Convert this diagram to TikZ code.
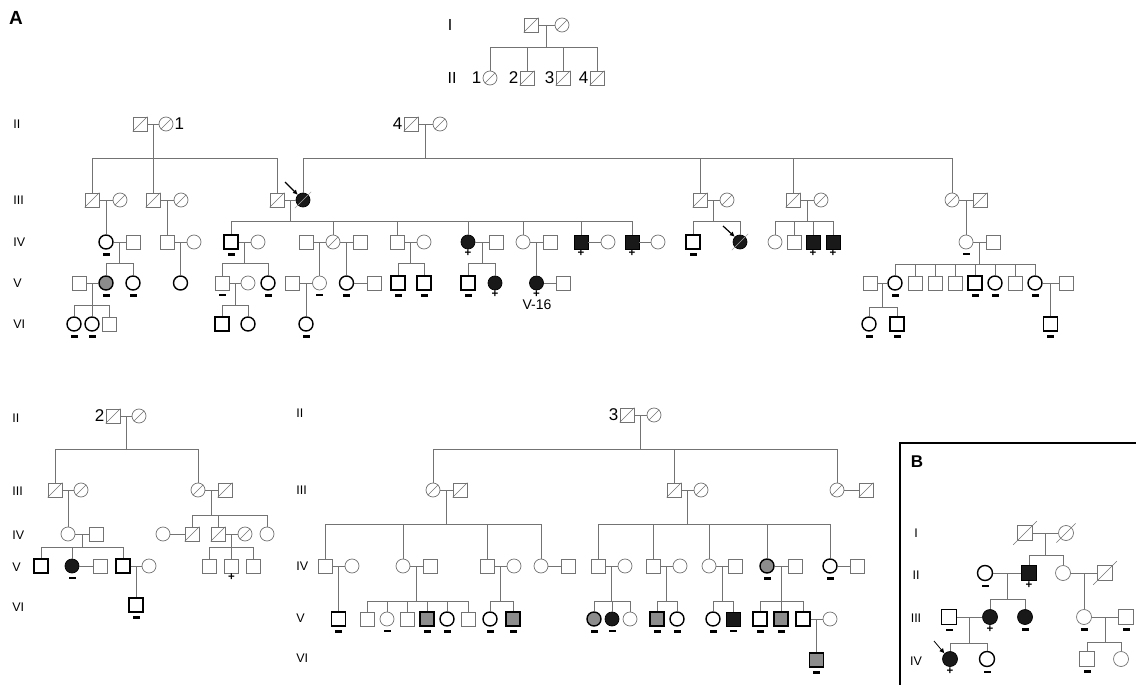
\documentclass[tikz,border=0pt]{standalone}
\usepackage{fontspec}
\setmainfont{Liberation Sans}
\usetikzlibrary{arrows.meta,calc}

\begin{document}
\begin{tikzpicture}[x=1pt,y=-1pt,line width=0.7pt]
    \tikzstyle{person}=[draw=black!55,fill=white,line width=0.7pt,minimum size=14pt,inner sep=0pt]
    \tikzstyle{male}=[person,rectangle]
    \tikzstyle{female}=[person,circle]
    \tikzstyle{big}=[minimum size=15pt]
    \tikzstyle{tested}=[draw=black,line width=1.4pt]
    \tikzstyle{affected}=[fill=black!90,draw=black]
    \tikzstyle{partial}=[fill=black!45]
    \tikzstyle{negmark}=[label={[fill=black,inner sep=0pt,minimum width=7pt,minimum height=2.5pt,label distance=3pt]below:{}}]
    \tikzstyle{posmark}=[label={[inner sep=0pt,label distance=0.5pt,font=\bfseries\fontsize{11.5}{11.5}\selectfont]below:+}]
    \tikzstyle{gen}=[font=\fontsize{12.5}{12.5}\selectfont,anchor=west,inner sep=0pt]
    \tikzstyle{num}=[font=\fontsize{17}{17}\selectfont,inner sep=1pt]
    \tikzstyle{link}=[draw=black!55,line width=0.7pt]
    \tikzstyle{slash}=[draw=black!55,line width=0.6pt]
    \tikzstyle{proband}=[draw=black,line width=1.2pt,-{Latex[length=5pt,width=5pt]}]

    \useasboundingbox (0,0) rectangle (1136,685);

    % Draw the overview of generations I and II
    \node[font=\fontsize{16}{16}\selectfont] (gI) at (450,25) {I};
    \node[font=\fontsize{16}{16}\selectfont] (gII) at (452,78) {II};
    \node[male] (t1) at (531,25) {};
    \node[female] (t2) at (562,25) {};
    \node[female,label={[num]left:1}] (t21) at (490,78) {};
    \node[male,label={[num]left:2}] (t22) at (527,78) {};
    \node[male,label={[num]left:3}] (t23) at (563,78) {};
    \node[male,label={[num]left:4}] (t24) at (597,78) {};
    \draw[link] (t1) -- (t2) coordinate[midway] (t12);
    \draw[link] (t12) -- (t12 |- 0,47) coordinate (t12s);
    \foreach \k in {t21,t22,t23,t24}
        \draw[link] (t12s) -| (\k);

    % Draw the large pedigree A
    \node[font=\bfseries\fontsize{19}{19}\selectfont] (A) at (16,18) {A};
    \foreach \g/\y in {II/124,III/200,IV/242,V/283,VI/324}
        \node[gen] (ga-\g) at (13,\y) {\g};

    \node[male] (a1) at (140,124) {};
    \node[female,label={[num]right:1}] (a2) at (166,124) {};
    \node[male,label={[num]left:4}] (a3) at (411,124) {};
    \node[female] (a4) at (440,124) {};

    \node[male] (b1) at (92,200) {};
    \node[female] (b2) at (120,200) {};
    \node[male] (b3) at (153,200) {};
    \node[female] (b4) at (181,200) {};
    \node[male] (b5) at (277,200) {};
    \node[female,affected] (b6) at (303,200) {};
    \node[male] (b7) at (700,200) {};
    \node[female] (b8) at (727,200) {};
    \node[male] (b9) at (793,200) {};
    \node[female] (b10) at (821,200) {};
    \node[female] (b11) at (952,200) {};
    \node[male] (b12) at (980,200) {};

    \node[female,tested,negmark] (c1) at (106,242) {};
    \node[male] (c2) at (133,242) {};
    \node[male] (c3) at (167,242) {};
    \node[female] (c4) at (194,242) {};
    \node[male,tested,negmark] (c5) at (231,242) {};
    \node[female] (c6) at (258,242) {};
    \node[male] (c8) at (306,242) {};
    \node[female] (c7) at (333,242) {};
    \node[male] (c9) at (360,242) {};
    \node[male] (c10) at (397,242) {};
    \node[female] (c11) at (424,242) {};
    \node[female,affected,posmark] (c12) at (468,242) {};
    \node[male] (c13) at (496,242) {};
    \node[female] (c14) at (523,242) {};
    \node[male] (c15) at (550,242) {};
    \node[male,affected,posmark] (c16) at (581,242) {};
    \node[female] (c17) at (608,242) {};
    \node[male,affected,posmark] (c18) at (632,242) {};
    \node[female] (c19) at (658,242) {};
    \node[male,tested,negmark] (c20) at (693,242) {};
    \node[female,affected] (c21) at (740,242) {};
    \node[female] (c22) at (775,242) {};
    \node[male] (c23) at (794,242) {};
    \node[male,affected,posmark] (c24) at (813,242) {};
    \node[male,affected,posmark] (c25) at (833,242) {};
    \node[female,negmark] (c26) at (966,242) {};
    \node[male] (c27) at (993,242) {};

    \node[male] (d1) at (79,283) {};
    \node[female,tested,partial,negmark] (d2) at (106,283) {};
    \node[female,tested,negmark] (d3) at (133,283) {};
    \node[female,tested] (d4) at (180.5,283) {};
    \node[male,negmark] (d5) at (222,283) {};
    \node[female] (d6) at (248,283) {};
    \node[female,tested,negmark] (d7) at (268,283) {};
    \node[male] (d8) at (292,283) {};
    \node[female,negmark] (d9) at (319.5,283) {};
    \node[female,tested,negmark] (d10) at (346.5,283) {};
    \node[male] (d11) at (374,283) {};
    \node[male,tested,negmark] (d12) at (398,283) {};
    \node[male,tested,negmark] (d13) at (424,283) {};
    \node[male,tested,negmark] (d14) at (468,283) {};
    \node[female,affected,posmark] (d15) at (495,283) {};
    \node[female,affected,posmark] (d16) at (536.5,283) {};
    \node[male] (d17) at (563,283) {};
    \node[male] (d18) at (870,283) {};
    \node[female,tested,negmark] (d19) at (895,283) {};
    \node[male] (d20) at (915,283) {};
    \node[male] (d21) at (935,283) {};
    \node[male] (d22) at (955,283) {};
    \node[male,tested,negmark] (d23) at (975,283) {};
    \node[female,tested,negmark] (d24) at (995,283) {};
    \node[male] (d25) at (1015,283) {};
    \node[female,tested,negmark] (d26) at (1035,283) {};
    \node[male] (d27) at (1066,283) {};
    \node[font=\fontsize{14}{14}\selectfont] (v16) at (537,305) {V-16};

    \node[female,tested,negmark] (e1) at (74,324) {};
    \node[female,tested,negmark] (e2) at (92,324) {};
    \node[male] (e3) at (109,324) {};
    \node[male,tested] (e4) at (222,324) {};
    \node[female,tested] (e5) at (248,324) {};
    \node[female,tested,negmark] (e6) at (306,324) {};
    \node[female,tested,negmark] (e7) at (869,324) {};
    \node[male,tested,negmark] (e8) at (897,324) {};
    \node[male,tested,negmark] (e9) at (1050.5,324) {};

    % Connect couples and their children
    \draw[link] (a1) -- (a2) coordinate[midway] (a12);
    \draw[link] (a12) -- (a12 |- 0,158) coordinate (a12s);
    \foreach \k in {b1,b3,b5}
        \draw[link] (a12s) -| (\k);
    \draw[link] (a3) -- (a4) coordinate[midway] (a34);
    \draw[link] (a34) -- (a34 |- 0,158) coordinate (a34s);
    \foreach \k in {b6,b7,b9,b11}
        \draw[link] (a34s) -| (\k);

    \draw[link] (b1) -- (b2) coordinate[midway] (b12m);
    \draw[link] (b12m) -| (c1);
    \draw[link] (b3) -- (b4) coordinate[midway] (b34);
    \draw[link] (b34) -| (c3);
    \draw[link] (b5) -- (b6) coordinate[midway] (b56);
    \draw[link] (b56) -- (b56 |- 0,221) coordinate (b56s);
    \foreach \k in {c5,c7,c10,c12,c14,c16,c18}
        \draw[link] (b56s) -| (\k);
    \draw[link] (b7) -- (b8) coordinate[midway] (b78);
    \draw[link] (b78) -- (b78 |- 0,221) coordinate (b78s);
    \foreach \k in {c20,c21}
        \draw[link] (b78s) -| (\k);
    \draw[link] (b9) -- (b10) coordinate[midway] (b910);
    \draw[link] (b910) -- (b910 |- 0,221) coordinate (b910s);
    \foreach \k in {c22,c23,c24,c25}
        \draw[link] (b910s) -| (\k);
    \draw[link] (b11) -- (b12) coordinate[midway] (b1112);
    \draw[link] (b1112) -| (c26);

    \draw[link] (c1) -- (c2) coordinate[midway] (c12m);
    \draw[link] (c12m) -- (c12m |- 0,263) coordinate (c12s);
    \foreach \k in {d2,d3}
        \draw[link] (c12s) -| (\k);
    \draw[link] (c3) -- (c4) coordinate[midway] (c34);
    \draw[link] (c34) -| (d4);
    \draw[link] (c5) -- (c6) coordinate[midway] (c56);
    \draw[link] (c56) -- (c56 |- 0,263) coordinate (c56s);
    \foreach \k in {d5,d7}
        \draw[link] (c56s) -| (\k);
    \draw[link] (c8) -- (c7) coordinate[midway] (c87);
    \draw[link] (c87) -| (d9);
    \draw[link] (c7) -- (c9) coordinate[midway] (c79);
    \draw[link] (c79) -| (d10);
    \draw[link] (c10) -- (c11) coordinate[midway] (c1011);
    \draw[link] (c1011) -- (c1011 |- 0,263) coordinate (c1011s);
    \foreach \k in {d12,d13}
        \draw[link] (c1011s) -| (\k);
    \draw[link] (c12) -- (c13) coordinate[midway] (c1213);
    \draw[link] (c1213) -- (c1213 |- 0,263) coordinate (c1213s);
    \foreach \k in {d14,d15}
        \draw[link] (c1213s) -| (\k);
    \draw[link] (c14) -- (c15) coordinate[midway] (c1415);
    \draw[link] (c1415) -| (d16);
    \draw[link] (c16) -- (c17);
    \draw[link] (c18) -- (c19);
    \draw[link] (c26) -- (c27) coordinate[midway] (c2627);
    \draw[link] (c2627) -- (c2627 |- 0,264) coordinate (c2627s);
    \foreach \k in {d19,d20,d21,d22,d23,d24,d25,d26}
        \draw[link] (c2627s) -| (\k);

    \draw[link] (d1) -- (d2) coordinate[midway] (d12);
    \draw[link] (d12) -- (d12 |- 0,305) coordinate (d12s);
    \foreach \k in {e1,e2,e3}
        \draw[link] (d12s) -| (\k);
    \draw[link] (d5) -- (d6) coordinate[midway] (d56);
    \draw[link] (d56) -- (d56 |- 0,305) coordinate (d56s);
    \foreach \k in {e4,e5}
        \draw[link] (d56s) -| (\k);
    \draw[link] (d8) -- (d9) coordinate[midway] (d89);
    \draw[link] (d89) -| (e6);
    \draw[link] (d10) -- (d11);
    \draw[link] (d16) -- (d17);
    \draw[link] (d18) -- (d19) coordinate[midway] (d1819);
    \draw[link] (d1819) -- (d1819 |- 0,307) coordinate (d1819s);
    \foreach \k in {e7,e8}
        \draw[link] (d1819s) -| (\k);
    \draw[link] (d26) -- (d27) coordinate[midway] (d2627);
    \draw[link] (d2627) -| (e9);

    % Probands
    \coordinate (pa) at (285,182);
    \draw[proband] (pa) -- (b6.north west);
    \coordinate (pb) at (723,226);
    \draw[proband] (pb) -- (c21.north west);

    % Draw the family of II-2
    \foreach \g/\y in {II/418,III/491,IV/535,V/567,VI/607}
        \node[gen] (gb-\g) at (12,\y) {\g};
    \node[male,label={[num]left:2}] (f1) at (113,416) {};
    \node[female] (f2) at (139,416) {};
    \node[male] (g1) at (55,490) {};
    \node[female] (g2) at (81,490) {};
    \node[female] (g3) at (198,490) {};
    \node[male] (g4) at (225,490) {};
    \node[female] (h1) at (68,534) {};
    \node[male] (h2) at (96,534) {};
    \node[female] (h3) at (163,534) {};
    \node[male] (h4) at (192,534) {};
    \node[male] (h5) at (218,534) {};
    \node[female] (h6) at (245,534) {};
    \node[female] (h7) at (267,534) {};
    \node[male,tested] (i1) at (41,566) {};
    \node[female,affected,negmark] (i2) at (72,566) {};
    \node[male] (i3) at (100,566) {};
    \node[male,tested] (i4) at (123,566) {};
    \node[female] (i5) at (149,566) {};
    \node[male] (i6) at (209,566) {};
    \node[male,posmark] (i7) at (231.5,566) {};
    \node[male] (i8) at (253,566) {};
    \node[male,tested,negmark] (j1) at (136,605) {};

    \draw[link] (f1) -- (f2) coordinate[midway] (f12);
    \draw[link] (f12) -- (f12 |- 0,449) coordinate (f12s);
    \foreach \k in {g1,g3}
        \draw[link] (f12s) -| (\k);
    \draw[link] (g1) -- (g2) coordinate[midway] (g12);
    \draw[link] (g12) -| (h1);
    \draw[link] (g3) -- (g4) coordinate[midway] (g34);
    \draw[link] (g34) -- (g34 |- 0,515) coordinate (g34s);
    \foreach \k in {h4,h5,h7}
        \draw[link] (g34s) -| (\k);
    \draw[link] (h3) -- (h4);
    \draw[link] (h1) -- (h2) coordinate[midway] (h12);
    \draw[link] (h12) -- (h12 |- 0,547) coordinate (h12s);
    \foreach \k in {i1,i2,i4}
        \draw[link] (h12s) -| (\k);
    \draw[link] (h5) -- (h6) coordinate[midway] (h56);
    \draw[link] (h56) -- (h56 |- 0,547) coordinate (h56s);
    \foreach \k in {i6,i7,i8}
        \draw[link] (h56s) -| (\k);
    \draw[link] (i2) -- (i3);
    \draw[link] (i4) -- (i5) coordinate[midway] (i45);
    \draw[link] (i45) -| (j1);

    % Draw the family of II-3
    \foreach \g/\y in {II/413,III/490,IV/566,V/618,VI/658}
        \node[gen] (gc-\g) at (296,\y) {\g};
    \node[male,label={[num]left:3}] (k1) at (627,415) {};
    \node[female] (k2) at (654,415) {};
    \node[female] (l1) at (433,490) {};
    \node[male] (l2) at (460,490) {};
    \node[male] (l3) at (674,490) {};
    \node[female] (l4) at (701,490) {};
    \node[female] (l5) at (837,490) {};
    \node[male] (l6) at (866,490) {};

    \node[male] (m1) at (325,566) {};
    \node[female] (m2) at (352,566) {};
    \node[female] (m3) at (403,566) {};
    \node[male] (m4) at (430,566) {};
    \node[male] (m5) at (487,566) {};
    \node[female] (m6) at (514,566) {};
    \node[female] (m7) at (541,566) {};
    \node[male] (m8) at (568,566) {};
    \node[male] (m9) at (598,566) {};
    \node[female] (m10) at (625,566) {};
    \node[male] (m11) at (653,566) {};
    \node[female] (m12) at (680,566) {};
    \node[female] (m13) at (709,566) {};
    \node[male] (m14) at (735,566) {};
    \node[female,tested,partial,negmark] (m15) at (767,566) {};
    \node[male] (m16) at (795,566) {};
    \node[female,tested,negmark] (m17) at (830,566) {};
    \node[male] (m18) at (857,566) {};

    \node[male,tested,negmark] (n1) at (338.5,619) {};
    \node[male] (n2) at (367,619) {};
    \node[female,negmark] (n3) at (387,619) {};
    \node[male] (n4) at (407,619) {};
    \node[male,tested,partial,negmark] (n5) at (427,619) {};
    \node[female,tested,negmark] (n6) at (447,619) {};
    \node[male] (n7) at (468,619) {};
    \node[female,tested,negmark] (n8) at (490,619) {};
    \node[male,tested,partial,negmark] (n9) at (513,619) {};
    \node[female,tested,partial,negmark] (n10) at (594,619) {};
    \node[female,affected,negmark] (n11) at (612,619) {};
    \node[female] (n12) at (630,619) {};
    \node[male,tested,partial,negmark] (n13) at (657,619) {};
    \node[female,tested,negmark] (n14) at (677,619) {};
    \node[female,tested,negmark] (n15) at (713,619) {};
    \node[male,affected,negmark] (n16) at (733,619) {};
    \node[male,tested,negmark] (n17) at (760,619) {};
    \node[male,tested,partial,negmark] (n18) at (781,619) {};
    \node[male,tested] (n19) at (803,619) {};
    \node[female] (n20) at (830,619) {};
    \node[male,tested,partial,negmark] (o1) at (816.5,660) {};

    \draw[link] (k1) -- (k2) coordinate[midway] (k12);
    \draw[link] (k12) -- (k12 |- 0,449) coordinate (k12s);
    \foreach \k in {l1,l3,l5}
        \draw[link] (k12s) -| (\k);
    \draw[link] (l1) -- (l2) coordinate[midway] (l12);
    \draw[link] (l12) -- (l12 |- 0,524) coordinate (l12s);
    \foreach \k in {m1,m3,m5,m7}
        \draw[link] (l12s) -| (\k);
    \draw[link] (l3) -- (l4) coordinate[midway] (l34);
    \draw[link] (l34) -- (l34 |- 0,524) coordinate (l34s);
    \foreach \k in {m9,m11,m13,m15,m17}
        \draw[link] (l34s) -| (\k);
    \draw[link] (l5) -- (l6);

    \draw[link] (m1) -- (m2) coordinate[midway] (m12m);
    \draw[link] (m12m) -| (n1);
    \draw[link] (m3) -- (m4) coordinate[midway] (m34);
    \draw[link] (m34) -- (m34 |- 0,601) coordinate (m34s);
    \foreach \k in {n2,n3,n4,n5,n6,n7}
        \draw[link] (m34s) -| (\k);
    \draw[link] (m5) -- (m6) coordinate[midway] (m56);
    \draw[link] (m56) -- (m56 |- 0,601) coordinate (m56s);
    \foreach \k in {n8,n9}
        \draw[link] (m56s) -| (\k);
    \draw[link] (m7) -- (m8);
    \draw[link] (m9) -- (m10) coordinate[midway] (m910);
    \draw[link] (m910) -- (m910 |- 0,601) coordinate (m910s);
    \foreach \k in {n10,n11,n12}
        \draw[link] (m910s) -| (\k);
    \draw[link] (m11) -- (m12) coordinate[midway] (m1112);
    \draw[link] (m1112) -- (m1112 |- 0,601) coordinate (m1112s);
    \foreach \k in {n13,n14}
        \draw[link] (m1112s) -| (\k);
    \draw[link] (m13) -- (m14) coordinate[midway] (m1314);
    \draw[link] (m1314) -- (m1314 |- 0,601) coordinate (m1314s);
    \foreach \k in {n15,n16}
        \draw[link] (m1314s) -| (\k);
    \draw[link] (m15) -- (m16) coordinate[midway] (m1516);
    \draw[link] (m1516) -- (m1516 |- 0,601) coordinate (m1516s);
    \foreach \k in {n17,n18,n19}
        \draw[link] (m1516s) -| (\k);
    \draw[link] (m17) -- (m18);
    \draw[link] (n19) -- (n20) coordinate[midway] (n1920);
    \draw[link] (n1920) -| (o1);

    % Deceased individuals
    \foreach \n in {t1,t2,t21,t22,t23,t24,a1,a2,a3,a4,b1,b2,b3,b4,b5,b7,b8,b9,b10,b11,b12,c7,
                    f1,f2,g1,g2,g3,g4,h4,h5,h6,k1,k2,l1,l2,l3,l4,l5,l6}
        \draw[slash] (\n.south west) -- (\n.north east);
    \foreach \n in {b6,c21}
        \draw[slash,draw=black!35] ($(\n.south west)+(-3,3)$) -- ($(\n.north east)+(3,-3)$);

    % Draw the pedigree B
    \draw[black,line width=1.5pt] (900,700) |- (1136,443);
    \node[font=\bfseries\fontsize{17}{17}\selectfont] (B) at (917,462) {B};
    \foreach \g/\y in {I/533,II/575,III/618,IV/661}
        \node[font=\fontsize{12.5}{12.5}\selectfont,inner sep=0pt] (gd-\g) at (916,\y) {\g};
    \node[male,big] (q1) at (1025,533) {};
    \node[female,big] (q2) at (1066,533) {};
    \node[female,big,tested,negmark] (r1) at (985,573) {};
    \node[male,big,affected,posmark] (r2) at (1029,573) {};
    \node[female,big] (r3) at (1063,573) {};
    \node[male,big] (r4) at (1105,573) {};
    \node[male,big,tested,negmark] (s1) at (949,617) {};
    \node[female,big,affected,posmark] (s2) at (990,617) {};
    \node[female,big,affected,negmark] (s3) at (1025,617) {};
    \node[female,big,negmark] (s4) at (1084,617) {};
    \node[male,big,negmark] (s5) at (1126,617) {};
    \node[female,big,affected,posmark] (u1) at (950,659) {};
    \node[female,big,tested,negmark] (u2) at (987,659) {};
    \node[male,big,negmark] (u3) at (1087,659) {};
    \node[female,big] (u4) at (1121,659) {};

    \draw[link] (q1) -- (q2) coordinate[midway] (q12);
    \draw[link] (q12) -- (q12 |- 0,555) coordinate (q12s);
    \foreach \k in {r2,r3}
        \draw[link] (q12s) -| (\k);
    \draw[link] (r1) -- (r2) coordinate[midway] (r12);
    \draw[link] (r12) -- (r12 |- 0,599) coordinate (r12s);
    \foreach \k in {s2,s3}
        \draw[link] (r12s) -| (\k);
    \draw[link] (r3) -- (r4) coordinate[midway] (r34);
    \draw[link] (r34) -| (s4);
    \draw[link] (s1) -- (s2) coordinate[midway] (s12);
    \draw[link] (s12) -- (s12 |- 0,643) coordinate (s12s);
    \foreach \k in {u1,u2}
        \draw[link] (s12s) -| (\k);
    \draw[link] (s4) -- (s5) coordinate[midway] (s45);
    \draw[link] (s45) -- (s45 |- 0,642) coordinate (s45s);
    \foreach \k in {u3,u4}
        \draw[link] (s45s) -| (\k);
    \foreach \n in {q1,q2,r4}
        \draw[slash] ($(\n.south west)+(-4,4)$) -- ($(\n.north east)+(4,-4)$);
    \coordinate (pc) at (934,641);
    \draw[proband,line width=0.8pt] (pc) -- (u1.north west);
\end{tikzpicture}
\end{document}
